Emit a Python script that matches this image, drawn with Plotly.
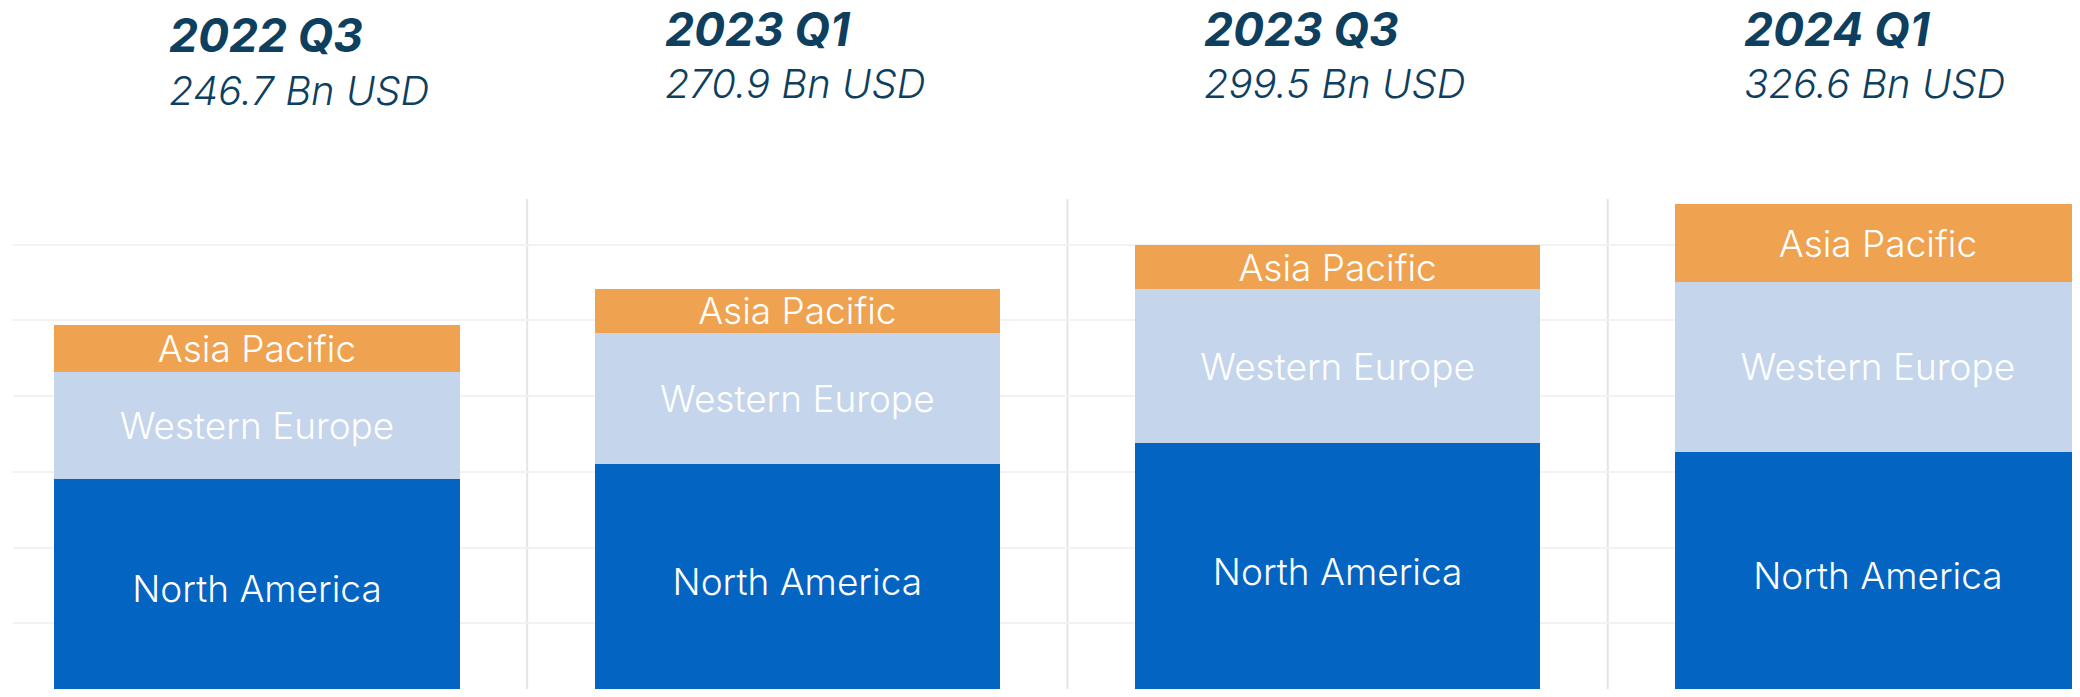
import plotly.graph_objects as go

periods = ["2022 Q3", "2023 Q1", "2023 Q3", "2024 Q1"]
totals = [246.7, 270.9, 299.5, 326.6]
north_america = [145.4, 155.1, 168.8, 163.3]
western_europe = [70.2, 86.5, 101.8, 111.7]
asia_pacific = [31.1, 29.3, 28.9, 51.6]

C_NA = "#0464C1"
C_WE = "#C5D5EC"
C_AP = "#EFA24F"
NAVY = "#0E3F5F"
FONT = "Inter"

# the page body keeps an 8px margin, so the figure is sized to fit the window exactly
OFF = 8
W, H = 2080 - 2 * OFF, 697 - 2 * OFF
L = 13 - OFF
CX0 = 257 - OFF          # pixel centre of first category (figure coords)
PPU_X = 540.3            # px per category
PPU_Y = 1.515            # px per Bn USD
ZERO = 699 - OFF         # pixel of value 0 (figure coords)

x_lo = -(CX0 - L) / PPU_X
x_hi = (W - CX0) / PPU_X
y_lo = (ZERO - H) / PPU_Y
y_hi = ZERO / PPU_Y


def vy(px):
    return (ZERO - (px - OFF)) / PPU_Y


def vx(px):
    return ((px - OFF) - CX0) / PPU_X


xs = list(range(len(periods)))
fig = go.Figure()
for name, vals, col in [("North America", north_america, C_NA),
                        ("Western Europe", western_europe, C_WE),
                        ("Asia Pacific", asia_pacific, C_AP)]:
    fig.add_trace(go.Bar(
        x=xs, y=vals, name=name, marker=dict(color=col, line=dict(width=0)),
        text=[name] * len(vals), textposition="inside", insidetextanchor="middle",
        textangle=0, constraintext="none",
        textfont=dict(family=FONT, size=37, color="white", weight=300),
        hoverinfo="skip",
    ))

title_left_px = [167, 663, 1202, 1742]
title_y_px = [35, 29, 29, 29]
sub_y_px = [90, 83, 83, 83]

for i, p in enumerate(periods):
    xl = vx(title_left_px[i])
    fig.add_annotation(x=xl, y=vy(title_y_px[i]), xref="x", yref="y",
                       text=f"<b><i>{p}</i></b>", showarrow=False, xanchor="left", yanchor="middle",
                       font=dict(family=FONT, size=46, color=NAVY))
    fig.add_annotation(x=xl, y=vy(sub_y_px[i]), xref="x", yref="y",
                       text=f"<i>{totals[i]} Bn USD</i>", showarrow=False, xanchor="left", yanchor="middle",
                       font=dict(family=FONT, size=40, color=NAVY, weight=300))

for b in [0.5, 1.5, 2.5]:
    fig.add_shape(type="line", x0=b, x1=b, xref="x", yref="y", y0=y_lo - 5, y1=vy(199),
                  line=dict(color="#E4E4E4", width=2), layer="below")

fig.update_layout(
    width=W, height=H, barmode="stack", bargap=0.25, showlegend=False,
    margin=dict(l=L, r=0, t=0, b=0, pad=0),
    paper_bgcolor="white", plot_bgcolor="white",
    xaxis=dict(range=[x_lo, x_hi], showticklabels=False, showgrid=False, zeroline=False, ticks=""),
    yaxis=dict(range=[y_lo, y_hi],
               tickvals=[50, 100, 150, 200, 250, 300], showticklabels=False,
               showgrid=True, gridcolor="#F2F2F2", gridwidth=1.5, zeroline=False),
)
fig.write_html("out.html")
